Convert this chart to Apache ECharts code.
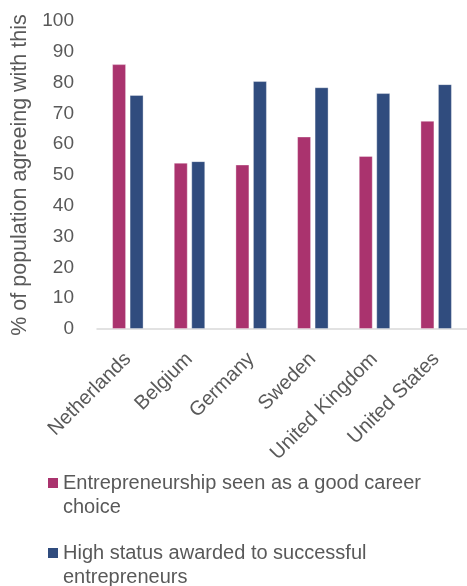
<!DOCTYPE html>
<html>
<head>
<meta charset="utf-8">
<script src="https://cdn.jsdelivr.net/npm/echarts@6/dist/echarts.min.js"></script>
<style>html,body{margin:0;padding:0;background:#fff}#c{width:467px;height:586px}</style>
</head>
<body>
<div id="c"></div>
<script>
var categories = ['Netherlands', 'Belgium', 'Germany', 'Sweden', 'United Kingdom', 'United States'];
var seriesNames = ['Entrepreneurship seen as a good career choice', 'High status awarded to successful entrepreneurs'];
var goodCareer = [86, 54, 53.4, 62.5, 56.2, 67.6];
var highStatus = [76, 54.5, 80.5, 78.5, 76.6, 79.5];
var yTicks = { min: 0, max: 100, interval: 10 };
var colors = ['#AA336E', '#304C7E'];

var font = 'Liberation Sans, Arial, sans-serif';
var txt = '#595959';
var chart = echarts.init(document.getElementById('c'));
chart.setOption({
  animation: false,
  color: colors,
  grid: { left: 97, right: 0, top: 21, bottom: 257 },
  legend: {
    orient: 'vertical',
    left: 48,
    top: 471,
    width: 419,
    height: 160,
    padding: 0,
    icon: 'path://M0,0L10,0L10,10L0,10Z M0,34L0.01,34',
    itemWidth: 10,
    itemHeight: 34,
    itemGap: 22,
    selectedMode: false,
    itemStyle: { borderWidth: 0 },
    textStyle: { fontFamily: font, fontSize: 20, color: txt, lineHeight: 24, width: 400, overflow: 'break' },
    data: seriesNames
  },
  xAxis: {
    type: 'category',
    data: categories,
    axisTick: { show: false },
    axisLine: { lineStyle: { color: '#d9d9d9', width: 1.5 } },
    axisLabel: { rotate: 45, fontFamily: font, fontSize: 20, color: txt, margin: 27, interval: 0 }
  },
  yAxis: {
    type: 'value',
    min: yTicks.min, max: yTicks.max, interval: yTicks.interval,
    name: '% of population agreeing with this',
    nameLocation: 'middle',
    nameRotate: 90,
    nameGap: 61,
    nameTextStyle: { fontFamily: font, fontSize: 21.5, color: txt },
    axisLine: { show: false },
    axisTick: { show: false },
    splitLine: { show: false },
    axisLabel: { fontFamily: font, fontSize: 19, color: txt, margin: 23 }
  },
  series: [
    { name: seriesNames[0], type: 'bar', data: goodCareer, barWidth: 14, barGap: '25%',
      itemStyle: { borderColor: 'rgba(255,255,255,0.35)', borderWidth: 1 } },
    { name: seriesNames[1], type: 'bar', data: highStatus, barWidth: 14, barGap: '25%',
      itemStyle: { borderColor: 'rgba(255,255,255,0.35)', borderWidth: 1 } }
  ]
});
</script>
</body>
</html>
